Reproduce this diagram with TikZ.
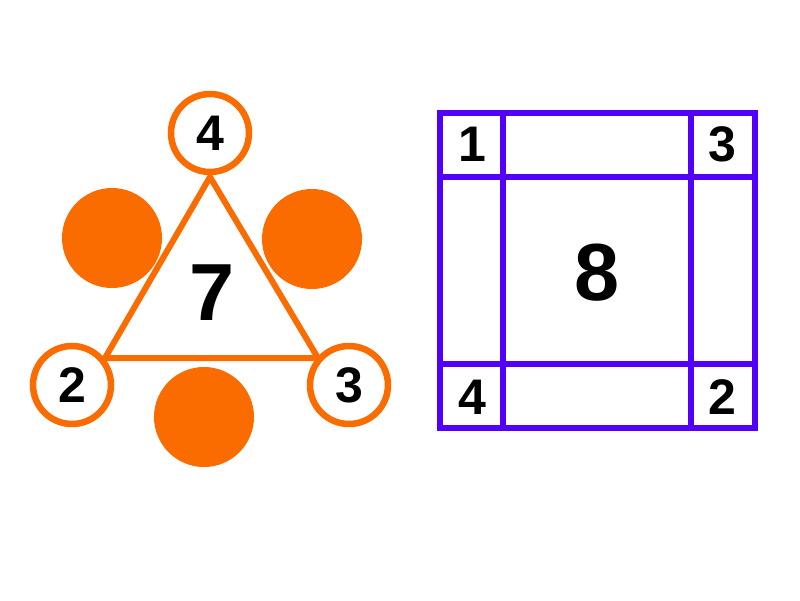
\documentclass[tikz,border=0pt]{standalone}
\usepackage{fontspec}
\setmainfont{Liberation Sans}
\definecolor{orng}{RGB}{250,108,0}
\definecolor{violetblue}{RGB}{82,0,250}
\tikzset{
  dot/.style={circle,fill=orng,draw=none,minimum size=100pt,inner sep=0pt},
  ring/.style={circle,fill=white,draw=orng,line width=6.5pt,minimum size=78pt,inner sep=0pt,font=\fontsize{50}{50}\selectfont\bfseries},
  edge/.style={draw=orng,line width=6pt},
  grid/.style={draw=violetblue,line width=6pt},
  small/.style={inner sep=0pt,font=\fontsize{50}{50}\selectfont\bfseries},
  big/.style={inner sep=0pt,font=\fontsize{81}{81}\selectfont\bfseries}
}
\begin{document}
\begin{tikzpicture}[x=1pt,y=-1pt]
\useasboundingbox (0,0) rectangle (800,600);
% filled circles
\node[dot] (d1) at (112,238) {};
\node[dot] (d2) at (312,239) {};
\node[dot] (d3) at (204,417) {};
% triangle
\coordinate (t1) at (210,177);
\coordinate (t2) at (105,358);
\coordinate (t3) at (318,358);
\draw[edge,line join=miter] (t1) -- (t2) -- (t3) -- cycle;
% rings
\node[ring] (c4) at (210,133) {4};
\node[ring] (c2) at (72,385) {2};
\node[ring] (c3) at (349,385) {3};
\node[big] (n7) at (212,293) {7};
% square grid
\draw[grid] (440,113) rectangle (755,428);
\draw[grid] (503,113) -- (503,428);
\draw[grid] (691,113) -- (691,428);
\draw[grid] (440,177) -- (755,177);
\draw[grid] (440,364) -- (755,364);
\node[small] (g1) at (472,144) {1};
\node[small] (g3) at (722,144) {3};
\node[small] (g4) at (472,397) {4};
\node[small] (g2) at (722,397) {2};
\node[big] (n8) at (597,273) {8};
\end{tikzpicture}
\end{document}
